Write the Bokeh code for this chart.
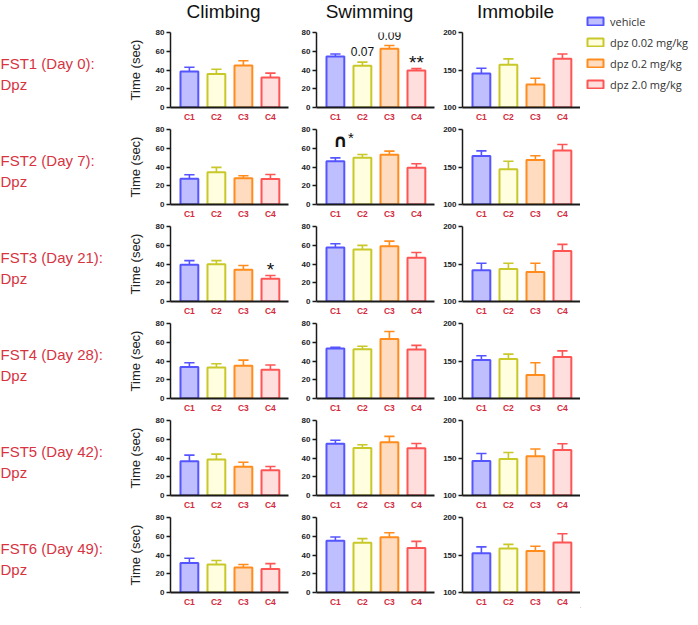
from bokeh.plotting import figure
from bokeh.layouts import row, column
from bokeh.models import Range1d, FixedTicker, Label, Legend, LegendItem, ColumnDataSource, Spacer
from bokeh.embed import file_html
from bokeh.resources import INLINE
from bokeh.core.properties import value

# ---------------- data ----------------
groups = ["C1", "C2", "C3", "C4"]
series = ["vehicle", "dpz 0.02 mg/kg", "dpz 0.2 mg/kg", "dpz 2.0 mg/kg"]
sessions = ["FST1 (Day 0):", "FST2 (Day 7):", "FST3 (Day 21):",
            "FST4 (Day 28):", "FST5 (Day 42):", "FST6 (Day 49):"]
session_drug = "Dpz"
measures = ["Climbing", "Swimming", "Immobile"]
y_label = "Time (sec)"

climbing_mean = [[38.4, 35.7, 44.7, 31.9],
                 [27.5, 34.5, 28.0, 27.2],
                 [39.1, 39.8, 33.9, 24.2],
                 [33.7, 33.0, 35.0, 30.6],
                 [36.6, 38.3, 30.7, 26.9],
                 [31.5, 29.8, 26.7, 25.0]]
climbing_sem = [[4.5, 5.1, 5.2, 4.8],
                [4.2, 5.1, 2.6, 4.8],
                [4.5, 3.8, 4.5, 3.5],
                [4.4, 4.1, 5.9, 5.1],
                [6.5, 5.8, 4.8, 4.1],
                [5.1, 4.4, 3.1, 5.8]]
swimming_mean = [[54.3, 44.6, 62.6, 39.5],
                 [46.2, 50.0, 53.1, 39.3],
                 [57.5, 55.4, 58.9, 46.8],
                 [53.3, 52.6, 63.6, 52.2],
                 [55.2, 50.7, 56.9, 50.3],
                 [55.1, 53.1, 58.9, 47.6]]
swimming_sem = [[2.8, 3.8, 3.5, 2.0],
                [3.5, 3.4, 3.8, 4.2],
                [4.1, 4.5, 5.5, 5.5],
                [1.3, 3.1, 7.9, 4.5],
                [3.8, 3.4, 6.2, 5.2],
                [4.1, 4.4, 4.8, 6.9]]
immobile_mean = [[145.5, 157.1, 130.6, 164.9],
                 [164.7, 147.0, 159.5, 171.9],
                 [141.6, 143.3, 139.4, 167.5],
                 [151.5, 152.8, 131.3, 155.4],
                 [146.1, 148.7, 152.2, 160.8],
                 [152.2, 158.6, 155.2, 166.8]]
immobile_sem = [[6.8, 7.8, 8.4, 6.5],
                [6.8, 10.7, 5.5, 8.1],
                [9.5, 7.8, 11.7, 8.7],
                [5.6, 6.4, 16.3, 8.1],
                [9.9, 8.6, 9.9, 8.2],
                [8.6, 5.6, 6.4, 11.6]]

y_ticks = {"Climbing": [0, 20, 40, 60, 80],
           "Swimming": [0, 20, 40, 60, 80],
           "Immobile": [100, 150, 200]}

# significance marks: (measure, session index, group index, text, style key)
marks = [("Swimming", 0, 1, "0.07", "num"),
         ("Swimming", 0, 2, "0.09", "num"),
         ("Swimming", 0, 3, "**", "star"),
         ("Climbing", 2, 3, "*", "star"),
         ("Swimming", 1, 0, "\u2229", "cap"),
         ("Swimming", 1, 0, "*", "capstar")]

# ---------------- style ----------------
FW, FH = 118, 77
TOP, BOT = 5, 15
HEAD = 27
ROW_H = TOP + FH + BOT
LABEL_W = 106
LEG_W = 110
LEG_SHIFT = 9
col_borders = {"Climbing": (64, 6), "Swimming": (22, 4), "Immobile": (24, 0)}
XR = (0.3, 4.67)
BAR_W = 0.66
CAP = 0.19
fills = ["#bfbfff", "#ffffe0", "#ffdcbf", "#ffdede"]
lines = ["#5555ff", "#c8c828", "#ff8c1c", "#ff5454"]
red = "#d42a3c"
label_red = "#d7343f"
FONT = "Liberation Sans"
mark_styles = {
    "num": dict(size="12px", bold=False, font=FONT, dx=0, dy=10.5),
    "star": dict(size="19px", bold=False, font=FONT, dx=0, dy=6),
    "cap": dict(size="18px", bold=True, font="DejaVu Sans", dx=5, dy=17),
    "capstar": dict(size="15px", bold=False, font=FONT, dx=15.5, dy=20),
}

data = {"Climbing": (climbing_mean, climbing_sem),
        "Swimming": (swimming_mean, swimming_sem),
        "Immobile": (immobile_mean, immobile_sem)}


def panel(measure, r):
    mean, sem = data[measure][0][r], data[measure][1][r]
    bl, br = col_borders[measure]
    ticks = y_ticks[measure]
    p = figure(width=bl + FW + br, height=ROW_H,
               x_range=Range1d(*XR), y_range=Range1d(ticks[0], ticks[-1]),
               output_backend="svg", toolbar_location=None,
               min_border_left=bl, min_border_right=br,
               min_border_top=TOP, min_border_bottom=BOT,
               outline_line_color=None)
    x = [i + 1 for i in range(len(groups))]
    hi = [m + s for m, s in zip(mean, sem)]
    src = ColumnDataSource(dict(x=x, top=mean, hi=hi,
                                c0=[v - CAP for v in x], c1=[v + CAP for v in x],
                                fill=fills, line=lines))
    p.vbar(x="x", top="top", bottom=ticks[0], width=BAR_W, fill_color="fill",
           line_color="line", line_width=2, source=src)
    p.segment(x0="x", y0="top", x1="x", y1="hi", line_color="line",
              line_width=1.6, source=src)
    p.segment(x0="c0", y0="hi", x1="c1", y1="hi", line_color="line",
              line_width=1.6, source=src)
    p.xgrid.visible = False
    p.ygrid.visible = False
    xa = p.xaxis[0]
    xa.ticker = FixedTicker(ticks=x)
    xa.major_label_overrides = {i + 1: g for i, g in enumerate(groups)}
    xa.major_tick_line_color = None
    xa.major_tick_out = 0
    xa.major_tick_in = 0
    xa.minor_tick_line_color = None
    xa.axis_line_width = 2
    xa.axis_line_color = "#1a1a1a"
    xa.major_label_text_font = FONT
    xa.major_label_text_font_style = "bold"
    xa.major_label_text_font_size = "8.5px"
    xa.major_label_text_color = red
    xa.major_label_standoff = 4
    ya = p.yaxis[0]
    ya.ticker = FixedTicker(ticks=ticks)
    ya.axis_line_width = 1.5
    ya.axis_line_color = "#1a1a1a"
    ya.major_tick_line_width = 1.5
    ya.major_tick_line_color = "#1a1a1a"
    ya.major_tick_out = 4
    ya.major_tick_in = 0
    ya.minor_tick_line_color = None
    ya.major_label_text_font = FONT
    ya.major_label_text_font_style = "bold"
    ya.major_label_text_font_size = "8px"
    ya.major_label_text_color = "#222222"
    ya.major_label_standoff = 2
    if measure == "Climbing":
        ya.axis_label = y_label
        ya.axis_label_text_font = FONT
        ya.axis_label_text_font_style = "normal"
        ya.axis_label_text_font_size = "13px"
        ya.axis_label_text_color = "#222222"
        ya.axis_label_standoff = 10
    for (mm, rr, g, txt, sk) in marks:
        if mm == measure and rr == r:
            st = mark_styles[sk]
            p.add_layout(Label(x=x[g], y=hi[g], x_offset=st["dx"], y_offset=st["dy"],
                               text=txt, text_align="center",
                               text_baseline="middle", text_font=st["font"],
                               text_font_size=st["size"],
                               text_font_style="bold" if st["bold"] else "normal",
                               text_color="#111111"))
    return p


rows = []
for r in range(len(sessions)):
    rows.append(row(*[panel(m, r) for m in measures]))

# header with column titles
widths = [col_borders[m][0] + FW + col_borders[m][1] for m in measures]
GRID_W = sum(widths)
centers = []
acc = 0
for m, w in zip(measures, widths):
    centers.append(acc + col_borders[m][0] + FW / 2 - 6)
    acc += w
head = figure(width=GRID_W, height=HEAD, x_range=Range1d(0, GRID_W), y_range=Range1d(HEAD, 0),
              x_axis_location=None, y_axis_location=None, min_border=0,
              outline_line_color=None, toolbar_location=None, output_backend="svg")
head.grid.visible = False
head.text(x=centers, y=[11] * len(measures), text=measures, text_align="center",
          text_baseline="middle", text_font=value(FONT), text_font_size="19px",
          text_color="#111111")

# row labels
TOTAL_H = HEAD + ROW_H * len(sessions)
lab = figure(width=LABEL_W, height=TOTAL_H, x_range=Range1d(0, LABEL_W),
             y_range=Range1d(TOTAL_H, 0), x_axis_location=None, y_axis_location=None,
             min_border=0, outline_line_color=None, toolbar_location=None,
             output_backend="svg")
lab.grid.visible = False
tops = [HEAD + i * ROW_H + TOP for i in range(len(sessions))]
lab.text(x=[0] * len(sessions), y=[t + 31 for t in tops], text=sessions,
         text_align="left", text_baseline="middle", text_font=value(FONT),
         text_font_size="15px", text_color=label_red)
lab.text(x=[0] * len(sessions), y=[t + 52 for t in tops], text=[session_drug] * len(sessions),
         text_align="left", text_baseline="middle", text_font=value(FONT),
         text_font_size="15px", text_color=label_red)

# legend
leg = figure(width=LEG_W, height=TOTAL_H - LEG_SHIFT, x_range=Range1d(0, 1), y_range=Range1d(0, 1),
             x_axis_location=None, y_axis_location=None, min_border=0,
             outline_line_color=None, toolbar_location=None, output_backend="svg")
leg.grid.visible = False
items = []
for name, fc, lc in zip(series, fills, lines):
    rr = leg.vbar(x=[-5], top=[0], width=0.5, fill_color=fc, line_color=lc, line_width=2)
    items.append(LegendItem(label=name, renderers=[rr]))
legend = Legend(items=items, location="top_left", margin=0, padding=5, spacing=5,
                glyph_width=20, glyph_height=10, label_height=16, label_standoff=5,
                label_text_font="Open Sans", label_text_font_size="11px",
                label_text_color="#333333", border_line_alpha=0,
                background_fill_alpha=0)
leg.add_layout(legend)

layout = row(lab, column(head, *rows), column(Spacer(width=LEG_W, height=LEG_SHIFT - 1), leg))

open("out.html", "w").write(file_html(layout, INLINE))
